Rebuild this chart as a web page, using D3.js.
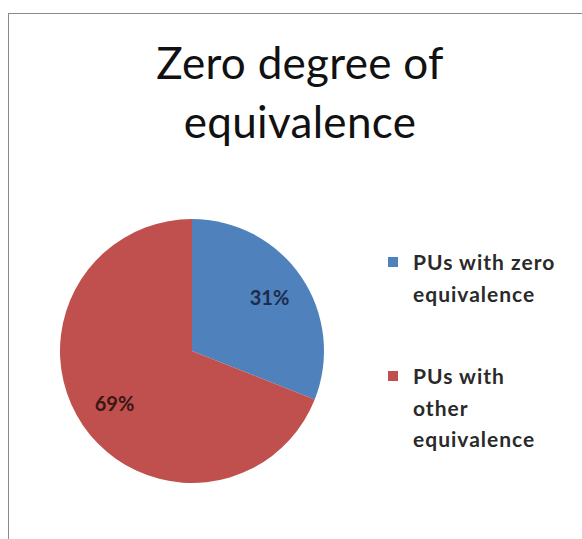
<!DOCTYPE html>
<html>
<head>
<meta charset="utf-8">
<script src="https://cdn.jsdelivr.net/npm/d3@7"></script>
<style>
  body { margin: 0; background: #fff; }
</style>
</head>
<body>
<svg></svg>
<script>
var width = 582;
var height = 539;

var categories = ['PUs with zero equivalence', 'PUs with other equivalence'];
var values = [31, 69];
var legendLines = [['PUs with zero', 'equivalence'], ['PUs with', 'other', 'equivalence']];
var colors = ['#4f81bd', '#c0504d'];
var labelColors = ['#1c2c4c', '#3a1616'];
var titleLines = ['Zero degree of', 'equivalence'];

var font = 'Lato, "Open Sans", sans-serif';

var svg = d3.select('svg')
    .attr('width', width)
    .attr('height', height);

// chart area border
svg.append('rect')
    .attr('x', 8.5)
    .attr('y', 13.5)
    .attr('width', width)
    .attr('height', height)
    .attr('fill', '#fff')
    .attr('stroke', '#8a8a8a')
    .attr('stroke-width', 1);

// title
svg.append('g')
    .selectAll('text')
    .data(titleLines)
    .enter()
    .append('text')
    .attr('x', 300)
    .attr('y', (d, i) => 79 + i * 59)
    .attr('text-anchor', 'middle')
    .style('font-family', font)
    .style('font-size', '44px')
    .style('letter-spacing', '0.3px')
    .attr('fill', '#111')
    .text(d => d);

var cx = 192, cy = 351, r = 132;

var pie = d3.pie().sort(null).value(d => d);
var arc = d3.arc().innerRadius(0).outerRadius(r);
var arcs = pie(values);

var g = svg.append('g').attr('transform', 'translate(' + cx + ',' + cy + ')');

g.selectAll('path')
    .data(arcs)
    .enter()
    .append('path')
    .attr('d', arc)
    .attr('fill', (d, i) => colors[i]);

var labelArc = d3.arc().innerRadius(r * 0.71).outerRadius(r * 0.71);

g.selectAll('.lbl')
    .data(arcs)
    .enter()
    .append('text')
    .attr('class', 'lbl')
    .attr('transform', d => 'translate(' + labelArc.centroid(d) + ')')
    .attr('text-anchor', 'middle')
    .attr('dy', '0.35em')
    .style('font-family', font)
    .style('font-size', '20px')
    .style('font-weight', 'bold')
    .attr('fill', (d, i) => labelColors[i])
    .text(d => d.data + '%');

// legend
var legendY = [262, 376];
var legend = svg.append('g');

legend.selectAll('rect')
    .data(categories)
    .enter()
    .append('rect')
    .attr('x', 388)
    .attr('y', (d, i) => legendY[i] - 5)
    .attr('width', 10)
    .attr('height', 10)
    .attr('fill', (d, i) => colors[i]);

legend.selectAll('text')
    .data(categories)
    .enter()
    .append('text')
    .attr('x', 413)
    .attr('y', (d, i) => legendY[i] + 8)
    .style('font-family', font)
    .style('font-size', '21px')
    .style('font-weight', 'bold')
    .style('letter-spacing', '1px')
    .attr('fill', '#2a2a2a')
    .each(function(d, i) {
        d3.select(this).selectAll('tspan')
            .data(legendLines[i])
            .enter()
            .append('tspan')
            .attr('x', 413)
            .attr('dy', (t, j) => j === 0 ? 0 : 31.5)
            .text(t => t);
    });
</script>
</body>
</html>
